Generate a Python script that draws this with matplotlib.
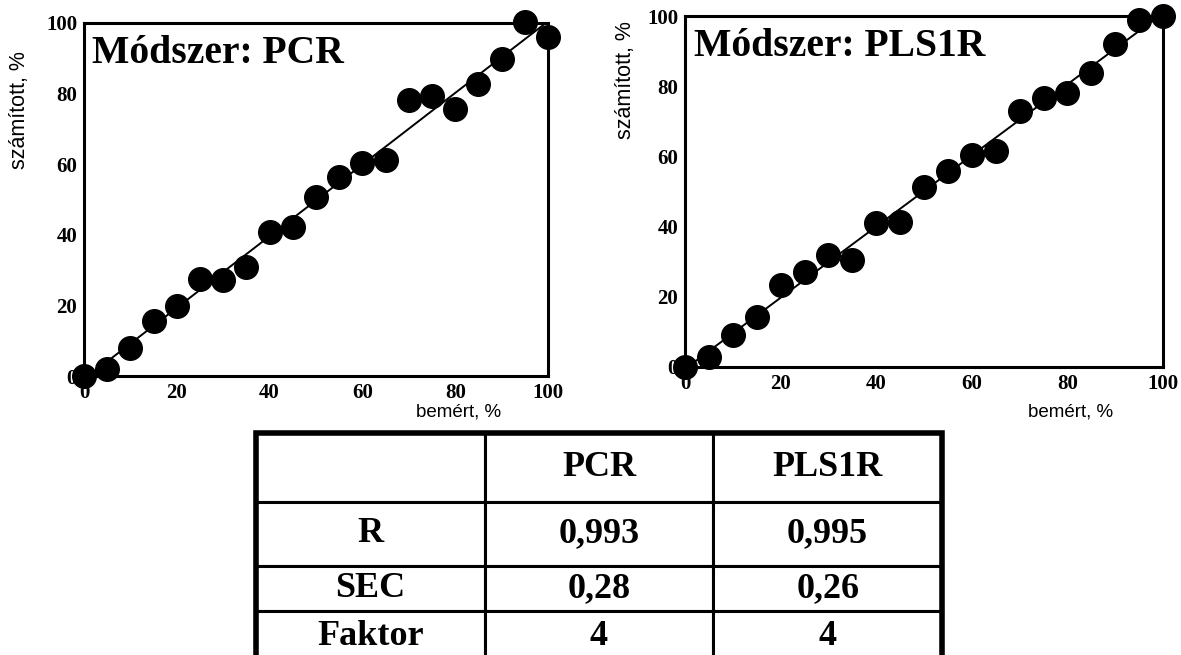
import numpy as np
import matplotlib
matplotlib.use("Agg")
import matplotlib.pyplot as plt
from matplotlib.patches import Rectangle

# ---------------- data ----------------
bemert = [0, 5, 10, 15, 20, 25, 30, 35, 40, 45, 50, 55, 60, 65, 70, 75, 80, 85, 90, 95, 100]
pcr_szamitott = [0, 2, 8, 15.7, 19.9, 27.5, 27.3, 30.9, 40.8, 42.3, 50.8, 56.5, 60.3, 61.3,
                 78.3, 79.3, 75.5, 82.6, 89.7, 100.2, 95.9]
pls_szamitott = [0, 2.9, 9.0, 14.3, 23.3, 27.1, 31.9, 30.5, 41.0, 41.4, 51.4, 55.7, 60.5, 61.4,
                 72.9, 76.7, 78.1, 83.8, 91.9, 99.0, 100]
tick_values = [0, 20, 40, 60, 80, 100]

table_cols = ["", "PCR", "PLS1R"]
table_rows = ["R", "SEC", "Faktor"]
pcr_stats = ["0,993", "0,28", "4"]
pls_stats = ["0,995", "0,26", "4"]

# ---------------- figure ----------------
W, H = 1181, 655
fig = plt.figure(figsize=(W / 100, H / 100), dpi=100)
fig.patch.set_facecolor("white")

serif = "Liberation Serif"
sans = "Liberation Sans"


def px_axes(x0, y0, x1, y1):
    return fig.add_axes([x0 / W, 1 - y1 / H, (x1 - x0) / W, (y1 - y0) / H])


def draw_panel(ax, x, y, title):
    xs = np.array(x, dtype=float)
    ys = np.array(y, dtype=float)
    k, b = np.polyfit(xs, ys, 1)
    lx = np.array([0, 100.0])
    ax.plot(lx, k * lx + b, color="black", lw=1.4, zorder=2)
    ax.plot(xs, ys, "o", color="black", markersize=17, clip_on=False, zorder=3)
    ax.set_xlim(0, 100)
    ax.set_ylim(0, 100)
    ax.set_xticks(tick_values)
    ax.set_yticks(tick_values)
    ax.set_xticklabels([str(t) for t in tick_values])
    ax.set_yticklabels([str(t) for t in tick_values])
    ax.tick_params(length=0, pad=5)
    for lab in ax.get_xticklabels() + ax.get_yticklabels():
        lab.set_fontfamily(serif)
        lab.set_fontweight("bold")
        lab.set_fontsize(15)
    for s in ax.spines.values():
        s.set_linewidth(2.2)
        s.set_color("black")
    ax.text(0.018, 0.965, title, transform=ax.transAxes, ha="left", va="top",
            fontfamily=serif, fontweight="bold", fontsize=28.5, zorder=4)


ax1 = px_axes(84, 23, 548, 376)
draw_panel(ax1, bemert, pcr_szamitott, "Módszer: PCR")
ax2 = px_axes(685, 16, 1163, 367)
draw_panel(ax2, bemert, pls_szamitott, "Módszer: PLS1R")

# axis labels
fig.text(20 / W, 1 - 110 / H, "számított, %", rotation=90, ha="center", va="center",
         fontfamily=sans, fontsize=15.5)
fig.text(459 / W, 1 - 412 / H, "bemért, %", ha="center", va="center",
         fontfamily=sans, fontsize=13.5)
fig.text(625 / W, 1 - 80 / H, "számított, %", rotation=90, ha="center", va="center",
         fontfamily=sans, fontsize=15.5)
fig.text(1071 / W, 1 - 412 / H, "bemért, %", ha="center", va="center",
         fontfamily=sans, fontsize=13.5)

# ---------------- table ----------------
tx0, ty0, tx1, ty1 = 256, 433, 942, 662
tax = px_axes(tx0, ty0, tx1, ty1)
tax.set_axis_off()
cell_text = [table_cols] + [[r, a, b] for r, a, b in zip(table_rows, pcr_stats, pls_stats)]
tbl = tax.table(cellText=cell_text, cellLoc="center", bbox=[0, 0, 1, 1])
tbl.auto_set_font_size(False)
row_px = [69, 64, 45, 51]
tot = sum(row_px)
for (r, c), cell in tbl.get_celld().items():
    cell.set_linewidth(2.2)
    cell.set_edgecolor("black")
    cell.set_height(row_px[r] / tot)
    t = cell.get_text()
    t.set_fontfamily(serif)
    t.set_fontweight("bold")
    t.set_fontsize(26)
tax.add_patch(Rectangle((0, 0), 1, 1, transform=tax.transAxes, fill=False,
                        lw=4, edgecolor="black", clip_on=False, zorder=5))

fig.savefig("out.png", dpi=100, facecolor="white")
